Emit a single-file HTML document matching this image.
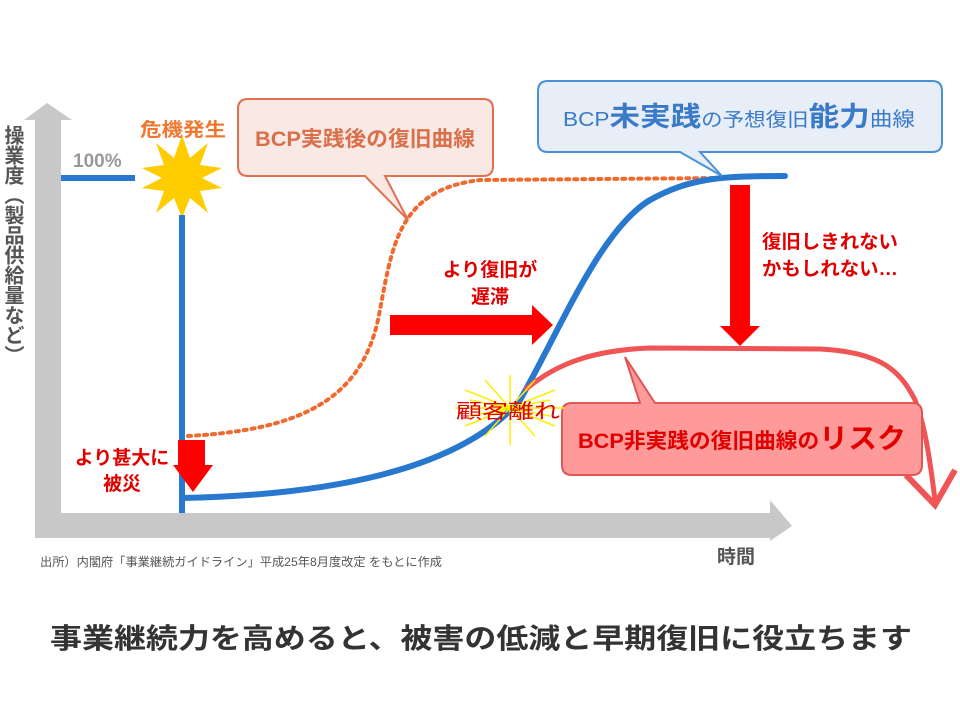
<!DOCTYPE html>
<html><head><meta charset="utf-8"><style>
html,body{margin:0;padding:0;background:#fff;}
svg{display:block;font-family:"Liberation Sans","Noto Sans CJK JP",sans-serif;}
</style></head><body>
<svg width="960" height="720" viewBox="0 0 960 720" xmlns="http://www.w3.org/2000/svg">
<!-- axes -->
<polygon points="35,120 24,120 47,103 72,120 61,120 61,513 35,513" fill="#c8c8c8"/>
<polygon points="35,513 770,513 770,500 792,526 770,541 770,538 35,538" fill="#c8c8c8"/>
<text font-size="20" font-weight="bold" fill="#555" style="writing-mode:vertical-rl" x="12" y="125">操業度（製品供給量など）</text>
<text x="73" y="167" font-size="19" font-weight="bold" fill="#999">100%</text>
<line x1="61" y1="178" x2="135" y2="178" stroke="#2878d0" stroke-width="6"/>
<!-- star -->
<polygon points="182,135 190,158 208,143 200,165 222,168 202,178 222,188 200,191 208,213 190,198 182,218 174,198 156,213 164,191 142,188 162,178 142,168 164,165 156,143 174,158" fill="#ffcc00"/>
<text x="140" y="136" font-size="19" font-weight="bold" fill="#f07830" textLength="86" lengthAdjust="spacingAndGlyphs">危機発生</text>
<line x1="182" y1="215" x2="182" y2="513" stroke="#2878d0" stroke-width="6"/>
<!-- dotted orange -->
<path d="M188,436 C300,430 360,400 378,320 C392,250 395,190 480,180 L720,178" fill="none" stroke="#f06a30" stroke-width="4" stroke-dasharray="3,5" stroke-linecap="round"/>
<!-- blue curve -->
<path d="M182,498 C330,495 460,470 520,400 C560,330 600,230 650,200 C690,178 720,176 785,176" fill="none" stroke="#2878d0" stroke-width="6" stroke-linecap="round"/>
<!-- red curve -->
<path d="M525,390 C560,360 600,350 650,348 L820,349 C880,352 900,370 915,400 C925,425 930,460 935,500" fill="none" stroke="#f05555" stroke-width="5"/>
<path d="M906,475 L935,505 L955,470" fill="none" stroke="#f05555" stroke-width="6"/>
<!-- callouts -->
<path d="M248,99 H483 Q493,99 493,109 V166 Q493,176 483,176 H385 L408,220 L365,176 H248 Q238,176 238,166 V109 Q238,99 248,99 Z" fill="#f9e9e5" stroke="#e07050" stroke-width="2"/>
<text x="255" y="146" font-size="21" font-weight="bold" fill="#d9704a" textLength="220" lengthAdjust="spacingAndGlyphs">BCP実践後の復旧曲線</text>
<path d="M548,81 H932 Q942,81 942,91 V142 Q942,152 932,152 H700 L722,176 L680,152 H548 Q538,152 538,142 V91 Q538,81 548,81 Z" fill="#e8eef8" stroke="#4a90d8" stroke-width="2"/>
<text x="563" y="126" font-size="20" fill="#3a7ac8" textLength="352" lengthAdjust="spacingAndGlyphs">BCP<tspan font-size="27" font-weight="bold">未実践</tspan><tspan font-size="19">の予想復旧</tspan><tspan font-size="27" font-weight="bold">能力</tspan><tspan font-size="20">曲線</tspan></text>
<path d="M572,403 H640 L625,357 L655,403 H912 Q922,403 922,413 V465 Q922,475 912,475 H572 Q562,475 562,465 V413 Q562,403 572,403 Z" fill="#ff9a9a" stroke="#e05555" stroke-width="2"/>
<text x="578" y="448" font-size="21" font-weight="bold" fill="#e00000" textLength="328" lengthAdjust="spacingAndGlyphs">BCP非実践の復旧曲線の<tspan font-size="28">リスク</tspan></text>
<!-- burst -->
<g stroke="#ffee00" stroke-width="1.5">
<line x1="455" y1="408" x2="565" y2="408"/><line x1="465" y1="390" x2="555" y2="426"/><line x1="465" y1="426" x2="555" y2="390"/><line x1="510" y1="375" x2="510" y2="445"/><line x1="485" y1="380" x2="535" y2="436"/><line x1="535" y1="380" x2="485" y2="436"/><line x1="470" y1="400" x2="550" y2="416"/><line x1="470" y1="416" x2="550" y2="400"/>
</g>
<text x="456" y="418" font-size="20" fill="#e00000" textLength="104" lengthAdjust="spacingAndGlyphs">顧客離れ</text>
<!-- red arrows -->
<polygon points="178,440 205,440 205,465 213,465 193,492 173,465 178,465" fill="#ff0000"/>
<text x="122" y="464" font-size="19" font-weight="bold" fill="#e00000" text-anchor="middle">より甚大に</text>
<text x="122" y="490" font-size="19" font-weight="bold" fill="#e00000" text-anchor="middle">被災</text>
<polygon points="390,315 532,315 532,305 553,325 532,345 532,335 390,335" fill="#ff0000"/>
<text x="490" y="276" font-size="19" font-weight="bold" fill="#e00000" text-anchor="middle">より復旧が</text>
<text x="490" y="303" font-size="19" font-weight="bold" fill="#e00000" text-anchor="middle">遅滞</text>
<polygon points="730,185 750,185 750,326 760,326 740,346 720,326 730,326" fill="#ff0000"/>
<text x="762" y="248" font-size="19" font-weight="bold" fill="#e00000" textLength="136" lengthAdjust="spacingAndGlyphs">復旧しきれない</text>
<text x="762" y="275" font-size="19" font-weight="bold" fill="#e00000" textLength="136" lengthAdjust="spacingAndGlyphs">かもしれない…</text>
<!-- footer -->
<text x="40" y="566" font-size="12" fill="#555" textLength="402" lengthAdjust="spacingAndGlyphs">出所）内閣府「事業継続ガイドライン」平成25年8月度改定 をもとに作成</text>
<text x="717" y="563" font-size="19" font-weight="bold" fill="#555">時間</text>
<text x="50" y="648" font-size="28" font-weight="bold" fill="#333" textLength="862" lengthAdjust="spacingAndGlyphs">事業継続力を高めると、被害の低減と早期復旧に役立ちます</text>
</svg>
</body></html>
